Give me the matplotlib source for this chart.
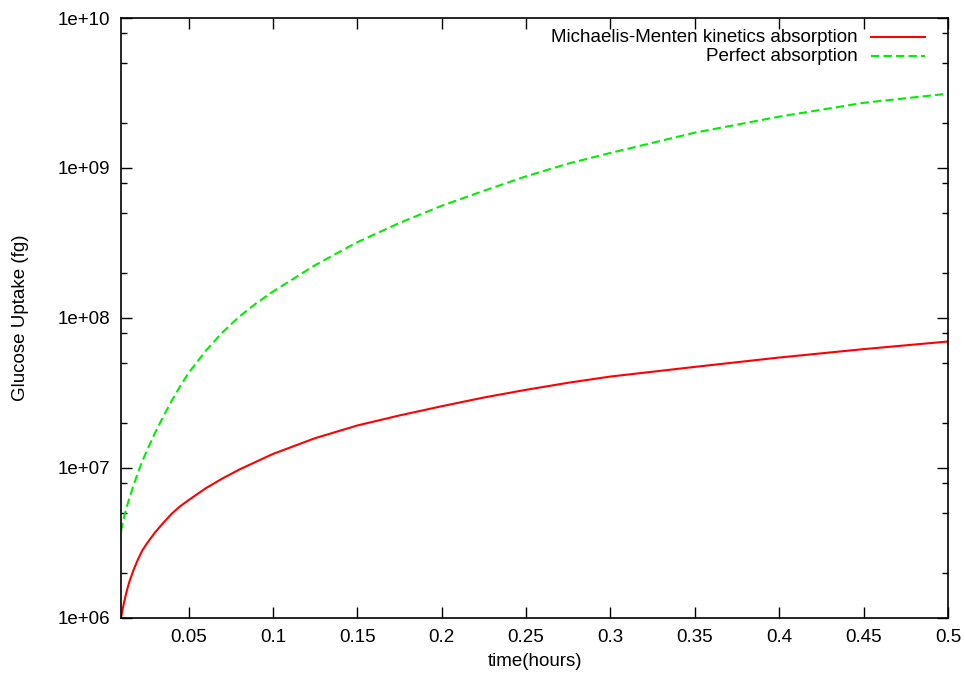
import numpy as np
import matplotlib
matplotlib.use("Agg")
import matplotlib.pyplot as plt
from matplotlib.ticker import FixedLocator, NullFormatter, FixedFormatter
from matplotlib.lines import Line2D

plt.rcParams["font.family"] = ["Liberation Sans", "DejaVu Sans"]

# time in hours
t = [0.010, 0.011, 0.012, 0.013, 0.014, 0.015, 0.0175, 0.020, 0.0225, 0.025,
     0.030, 0.035, 0.040, 0.045, 0.050, 0.060, 0.070, 0.080, 0.090, 0.100,
     0.125, 0.150, 0.175, 0.200, 0.225, 0.250, 0.275, 0.300, 0.350, 0.400,
     0.450, 0.500]

# glucose uptake (fg)
mm_uptake = [1.00e6, 1.15e6, 1.30e6, 1.45e6, 1.60e6, 1.75e6, 2.10e6, 2.45e6, 2.80e6, 3.10e6,
             3.70e6, 4.30e6, 4.95e6, 5.55e6, 6.10e6, 7.30e6, 8.50e6, 9.75e6, 1.10e7, 1.24e7,
             1.58e7, 1.92e7, 2.24e7, 2.58e7, 2.95e7, 3.32e7, 3.70e7, 4.07e7, 4.72e7, 5.45e7,
             6.20e7, 6.97e7]
perfect_uptake = [3.8e6, 4.3e6, 4.8e6, 5.3e6, 5.8e6, 6.3e6, 7.7e6, 9.3e6, 1.10e7, 1.28e7,
                  1.70e7, 2.20e7, 2.80e7, 3.50e7, 4.30e7, 6.00e7, 8.00e7, 1.02e8, 1.25e8, 1.50e8,
                  2.25e8, 3.20e8, 4.30e8, 5.60e8, 7.05e8, 8.80e8, 1.07e9, 1.26e9, 1.72e9, 2.20e9,
                  2.72e9, 3.13e9]

labels = ["Michaelis-Menten kinetics absorption", "Perfect absorption"]
xticks = [0.05, 0.1, 0.15, 0.2, 0.25, 0.3, 0.35, 0.4, 0.45, 0.5]
xticklabels = ["0.05", "0.1", "0.15", "0.2", "0.25", "0.3", "0.35", "0.4", "0.45", "0.5"]
yticks = [1e6, 1e7, 1e8, 1e9, 1e10]
yticklabels = ["1e+06", "1e+07", "1e+08", "1e+09", "1e+10"]

fs = 13.5
fig = plt.figure(figsize=(9.65, 6.77), dpi=100)
ax = fig.add_axes([0.1254, 0.0872, 0.8570, 0.8862])

red = "#ff0000"
green = "#00ee00"
ax.plot(t, mm_uptake, color=red, lw=1.5)
ax.plot(t, perfect_uptake, color=green, lw=1.5, dashes=(4, 2))

ax.set_yscale("log")
ax.set_xlim(0.01, 0.5)
ax.set_ylim(1e6, 1e10)

ax.xaxis.set_major_locator(FixedLocator(xticks))
ax.xaxis.set_major_formatter(FixedFormatter(xticklabels))
ax.yaxis.set_major_locator(FixedLocator(yticks))
ax.yaxis.set_major_formatter(FixedFormatter(yticklabels))
minor = [m * 10.0 ** e for e in range(6, 10) for m in (2, 5, 8)]
ax.yaxis.set_minor_locator(FixedLocator(minor))
ax.yaxis.set_minor_formatter(NullFormatter())
ax.xaxis.set_minor_locator(FixedLocator([]))

ax.tick_params(which="both", direction="in", top=True, right=True,
               labelsize=fs, colors="black", width=1.0)
ax.tick_params(which="major", length=8, pad=8)
ax.tick_params(which="minor", length=4)
for s in ax.spines.values():
    s.set_linewidth(1.2)

ax.set_xlabel("time(hours)", fontsize=fs, labelpad=5)
ax.set_ylabel("Glucose Uptake (fg)", fontsize=fs, labelpad=20)

# key in the top right corner, text right-aligned before the sample line
rows = [(0.968, red, None), (0.936, green, (4, 2))]
for (yy, col, dsh), lab in zip(rows, labels):
    ax.text(0.891, yy, lab, transform=ax.transAxes, ha="right", va="center",
            fontsize=fs)
    ln = Line2D([0.907, 0.972], [yy, yy], transform=ax.transAxes, color=col, lw=1.5)
    if dsh:
        ln.set_dashes(dsh)
    ax.add_line(ln)

fig.savefig("out.png", dpi=100)
